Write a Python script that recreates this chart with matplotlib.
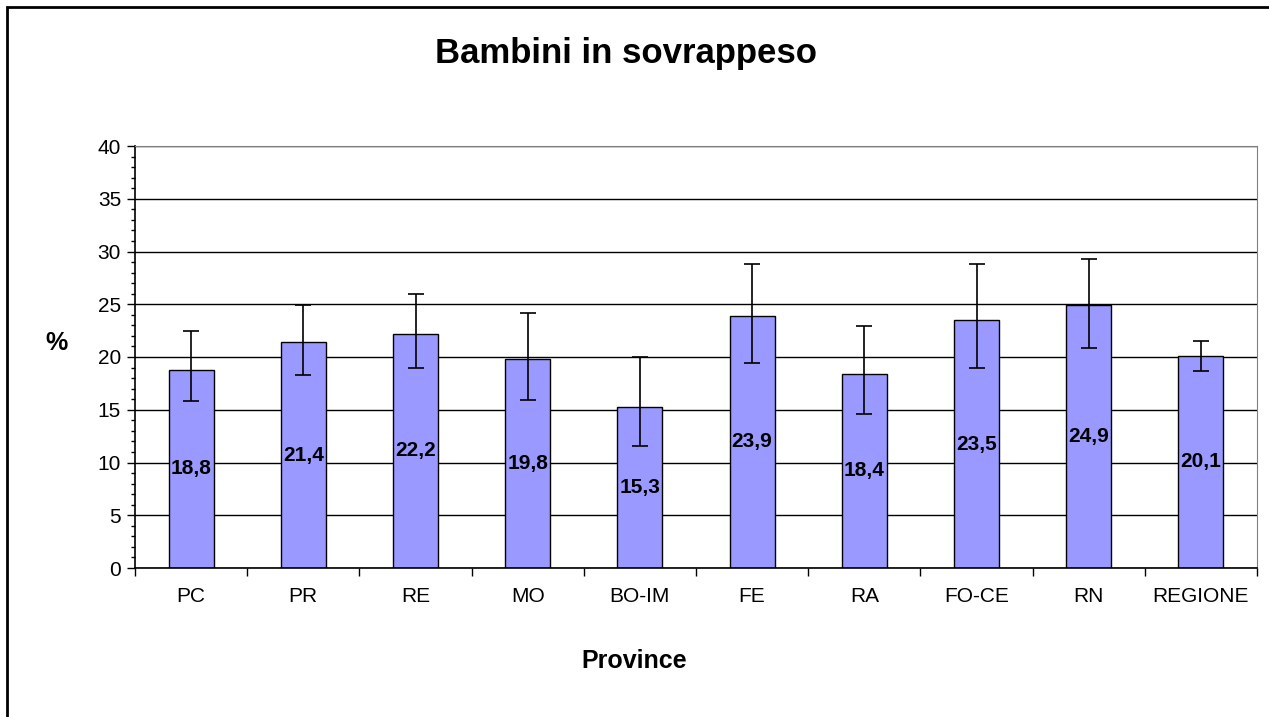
# Bar chart of overweight children by province, with confidence intervals

import matplotlib.pyplot as plt
from matplotlib.patches import Rectangle
from matplotlib.ticker import MultipleLocator
import numpy as np

plt.rcParams['font.family'] = ['Liberation Sans', 'DejaVu Sans']

# Data
province = ["PC", "PR", "RE", "MO", "BO-IM", "FE", "RA", "FO-CE", "RN", "REGIONE"]
valori = [18.8, 21.4, 22.2, 19.8, 15.3, 23.9, 18.4, 23.5, 24.9, 20.1]
ic_inf = [15.8, 18.3, 19.0, 15.9, 11.6, 19.4, 14.6, 19.0, 20.9, 18.7]
ic_sup = [22.5, 24.9, 26.0, 24.2, 20.0, 28.8, 22.9, 28.8, 29.3, 21.5]

fig = plt.figure(figsize=(12.69, 7.17), dpi=100)
ax = fig.add_axes([135 / 1269, 1 - 568 / 717, (1257 - 135) / 1269, (568 - 146) / 717])

# Outer border of the chart area
fig.patches.append(Rectangle((7 / 1269, -0.1), 1.2, 1.1 - 7 / 717, transform=fig.transFigure,
                             fill=False, edgecolor="black", linewidth=2))

x = np.arange(len(province))
err = [np.array(valori) - np.array(ic_inf), np.array(ic_sup) - np.array(valori)]

ax.bar(x, valori, width=0.4, color="#9999FF", edgecolor="black", linewidth=1, zorder=2)
ax.errorbar(x, valori, yerr=err, fmt="none", ecolor="black", elinewidth=1.2,
            capsize=6, capthick=1.2, zorder=3)

# Value labels in the middle of each bar
for xi, v in zip(x, valori):
    ax.text(xi, v / 2, f"{v:.1f}".replace(".", ","), ha="center", va="center",
            fontsize=15, fontweight="bold", zorder=4)

ax.set_xlim(-0.5, len(province) - 0.5)
ax.set_ylim(0, 40)
ax.yaxis.set_major_locator(MultipleLocator(5))
ax.yaxis.set_minor_locator(MultipleLocator(1))
ax.yaxis.grid(True, color="black", linewidth=1, zorder=0)
ax.set_axisbelow(True)

ax.set_xticks(x)
ax.set_xticklabels(province, fontsize=15)
ax.set_xticks(np.arange(-0.5, len(province)), minor=True)
ax.tick_params(axis="x", which="major", length=0, pad=14)
ax.tick_params(axis="x", which="minor", length=6, width=1, direction="out")
ax.tick_params(axis="y", which="major", length=6, width=1, labelsize=15, pad=4)
ax.tick_params(axis="y", which="minor", length=3, width=1)

for s in ["top", "right"]:
    ax.spines[s].set_color("#808080")
for s in ["left", "bottom"]:
    ax.spines[s].set_linewidth(1.2)

fig.text(626 / 1269, 1 - 53 / 717, "Bambini in sovrappeso", ha="center", va="center",
         fontsize=25, fontweight="bold")
fig.text(56 / 1269, 1 - 343 / 717, "%", ha="center", va="center",
         fontsize=18, fontweight="bold")
fig.text(634 / 1269, 1 - 661 / 717, "Province", ha="center", va="center",
         fontsize=18, fontweight="bold")

fig.savefig("out.png", dpi=100)
